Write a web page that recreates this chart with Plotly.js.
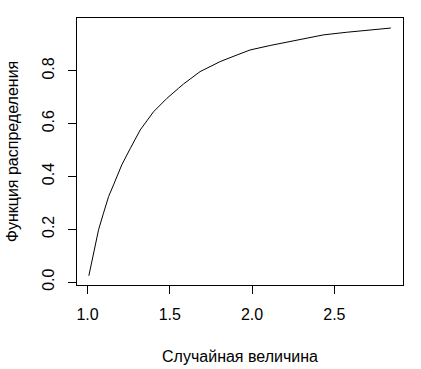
<!DOCTYPE html>
<html>
<head>
<meta charset="utf-8">
<script src="https://cdn.plot.ly/plotly-3.0.1.min.js"></script>
<style>html,body{margin:0;padding:0;background:#fff;}#plot{width:421px;height:369px;}</style>
</head>
<body>
<div id="plot"></div>
<script>
const xValues = [1.008, 1.036, 1.067, 1.097, 1.128, 1.158, 1.209, 1.259, 1.320, 1.401, 1.481, 1.553, 1.583, 1.684, 1.806, 1.908, 1.988, 2.110, 2.220, 2.290, 2.433, 2.575, 2.717, 2.843];
const cdfValues = [0.024, 0.110, 0.198, 0.261, 0.324, 0.368, 0.445, 0.505, 0.576, 0.645, 0.695, 0.734, 0.750, 0.797, 0.835, 0.860, 0.879, 0.896, 0.910, 0.919, 0.936, 0.946, 0.954, 0.962];
const xTicks = [1.0, 1.5, 2.0, 2.5];
const xTickLabels = ["1.0", "1.5", "2.0", "2.5"];
const yTicks = [0.0, 0.2, 0.4, 0.6, 0.8];
const yTickLabels = ["0.0", "0.2", "0.4", "0.6", "0.8"];
const xTitle = "Случайная величина";
const yTitle = "Функция распределения";

const font = {family: "Liberation Sans, Arial, sans-serif", size: 16, color: "#000"};

Plotly.newPlot("plot", [{
  x: xValues, y: cdfValues, type: "scatter", mode: "lines",
  line: {color: "#000", width: 1}, hoverinfo: "skip"
}], {
  width: 421, height: 369,
  margin: {l: 77, r: 18, t: 18, b: 84, pad: 0},
  paper_bgcolor: "#fff", plot_bgcolor: "#fff",
  font: font,
  showlegend: false,
  xaxis: {
    range: [0.936, 2.917], tickmode: "array", tickvals: xTicks, ticktext: xTickLabels,
    ticks: "outside", ticklen: 8, tickwidth: 1, tickcolor: "#000", ticklabelstandoff: 7,
    showline: true, linecolor: "#000", linewidth: 1, mirror: true,
    showgrid: false, zeroline: false, tickfont: font,
    title: {text: xTitle, font: font, standoff: 28}
  },
  yaxis: {
    range: [-0.011, 1.0], tickmode: "array", tickvals: yTicks, ticktext: yTickLabels,
    ticks: "outside", ticklen: 8, tickwidth: 1, tickcolor: "#000", tickangle: -90, ticklabelstandoff: 8,
    showline: true, linecolor: "#000", linewidth: 1, mirror: true,
    showgrid: false, zeroline: false, tickfont: font,
    title: {text: yTitle, font: font, standoff: 16}
  }
}, {staticPlot: true});
</script>
</body>
</html>
